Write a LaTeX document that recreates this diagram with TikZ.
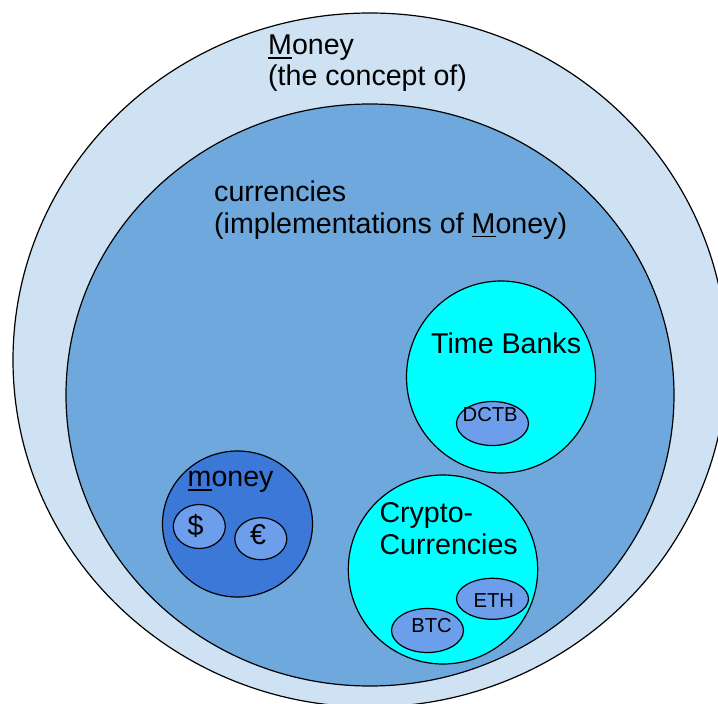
\documentclass[tikz,border=0pt]{standalone}
\usepackage{fontspec}
\setmainfont{Liberation Sans}
\definecolor{concept}{HTML}{CFE2F3}
\definecolor{impl}{HTML}{6FA8DC}
\definecolor{fiat}{HTML}{3C78D8}
\definecolor{token}{HTML}{6D9EEB}
\definecolor{alt}{HTML}{00FFFF}
\newcommand{\undl}[1]{\setbox0=\hbox{#1}\rlap{\rule[-4.3pt]{\wd0}{1.8pt}}\box0}
\begin{document}
\begin{tikzpicture}[x=1pt,y=-1pt,
    set/.style={draw=black, line width=1.2pt},
    big/.style={font=\fontsize{28.6}{32}\selectfont, inner sep=0pt, align=left},
    small/.style={font=\fontsize{20.2}{23}\selectfont, inner sep=0pt}]
  \useasboundingbox[fill=white] (0,0) rectangle (718,704);

  \draw[set, fill=concept] (370,360)   ellipse (357 and 347);
  \draw[set, fill=impl]    (370,395)   ellipse (304 and 291);
  \draw[set, fill=fiat]    (237.5,524) ellipse (75 and 73);
  \draw[set, fill=alt]     (501,377)   ellipse (94.5 and 96);
  \draw[set, fill=alt]     (443,569.5) ellipse (94.7 and 94.5);

  \draw[set, fill=token] (199.3,526.5) ellipse (26 and 22);
  \draw[set, fill=token] (260.8,538.7) ellipse (26 and 21);
  \draw[set, fill=token] (492.5,423.5) ellipse (36 and 22);
  \draw[set, fill=token] (492.5,598.8) ellipse (36 and 20.5);
  \draw[set, fill=token] (427.5,630.5) ellipse (36 and 22);

  \node[big, anchor=base west] (concept)    at (268,85)    {\undl{M}oney\\[-1.5pt](the concept of)};
  \node[big, anchor=base west] (currencies) at (214,233)   {currencies\\(implementations of \undl{M}oney)};
  \node[big, anchor=base west] (timebanks)  at (431,353.3) {Time Banks};
  \node[big, anchor=base west] (fiat)       at (187.5,486.7) {\undl{m}oney};
  \node[big, anchor=base west] (crypto)     at (379.3,554.3) {Crypto-\\Currencies};
  \node[big, anchor=base]      (dollar)     at (195.7,535)   {\$};
  \node[big, anchor=base]      (euro)       at (258,544)     {€};

  \node[small, anchor=base west] (dctb) at (462.5,421)   {DCTB};
  \node[small, anchor=base west] (eth)  at (473.4,607.7) {ETH};
  \node[small, anchor=base west] (btc)  at (411.2,632.3) {BTC};
\end{tikzpicture}
\end{document}
